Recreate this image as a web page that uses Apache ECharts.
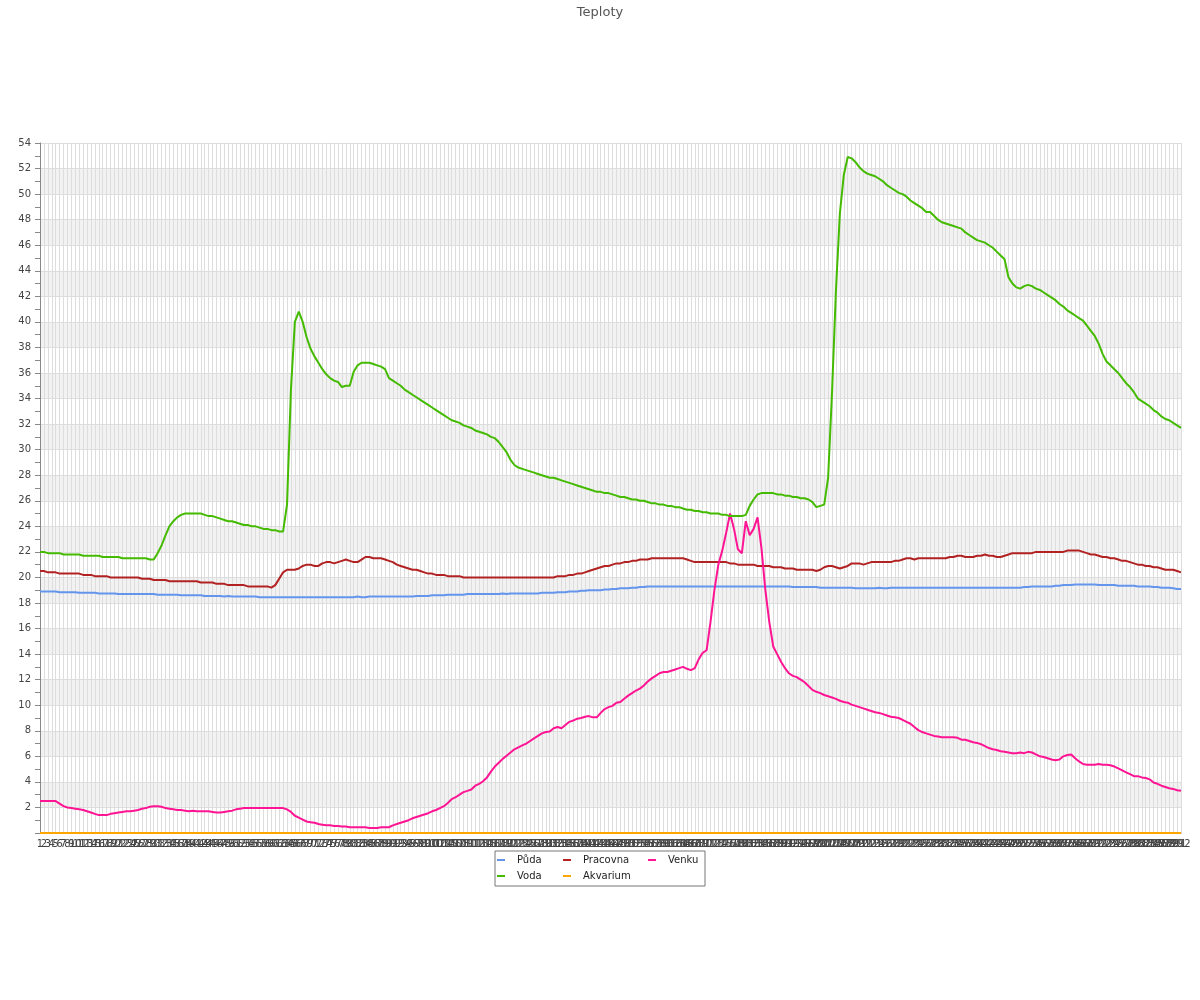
<!DOCTYPE html>
<html>
<head>
<meta charset="utf-8">
<script src="https://cdn.jsdelivr.net/npm/echarts@6/dist/echarts.min.js"></script>
<style>html,body{margin:0;padding:0;background:#fff}#c{width:1200px;height:1000px}</style>
</head>
<body>
<div id="c"></div>
<script>
const categories = Array.from({length: 292}, (_, i) => String(i + 1));

const puda = [
18.9,18.9,18.9,18.9,18.9,18.85,18.85,18.85,18.85,18.85,
18.8,18.8,18.8,18.8,18.8,18.75,18.75,18.75,18.75,18.75,
18.7,18.7,18.7,18.7,18.7,18.7,18.7,18.7,18.7,18.7,
18.65,18.65,18.65,18.65,18.65,18.65,18.6,18.6,18.6,18.6,
18.6,18.6,18.55,18.55,18.55,18.55,18.55,18.5,18.55,18.5,
18.5,18.5,18.5,18.5,18.5,18.5,18.45,18.45,18.45,18.45,
18.45,18.45,18.45,18.45,18.45,18.45,18.45,18.45,18.45,18.45,
18.45,18.45,18.45,18.45,18.45,18.45,18.45,18.45,18.45,18.45,
18.45,18.5,18.45,18.45,18.5,18.5,18.5,18.5,18.5,18.5,
18.5,18.5,18.5,18.5,18.5,18.5,18.55,18.55,18.55,18.55,
18.6,18.6,18.6,18.6,18.65,18.65,18.65,18.65,18.65,18.7,
18.7,18.7,18.7,18.7,18.7,18.7,18.7,18.7,18.75,18.7,
18.75,18.75,18.75,18.75,18.75,18.75,18.75,18.75,18.8,18.8,
18.8,18.8,18.85,18.85,18.85,18.9,18.9,18.9,18.95,18.95,
19.0,19.0,19.0,19.0,19.05,19.05,19.1,19.1,19.15,19.15,
19.15,19.2,19.2,19.25,19.25,19.3,19.3,19.3,19.3,19.3,
19.3,19.3,19.3,19.3,19.3,19.3,19.3,19.3,19.3,19.3,
19.3,19.3,19.3,19.3,19.3,19.3,19.3,19.3,19.3,19.3,
19.3,19.3,19.3,19.3,19.3,19.3,19.3,19.3,19.3,19.3,
19.3,19.3,19.25,19.25,19.25,19.25,19.25,19.25,19.25,19.2,
19.2,19.2,19.2,19.2,19.2,19.2,19.2,19.2,19.15,19.15,
19.15,19.15,19.15,19.15,19.2,19.15,19.15,19.2,19.2,19.2,
19.2,19.2,19.2,19.2,19.2,19.2,19.2,19.2,19.2,19.2,
19.2,19.2,19.2,19.2,19.2,19.2,19.2,19.2,19.2,19.2,
19.2,19.2,19.2,19.2,19.2,19.2,19.2,19.2,19.2,19.2,
19.2,19.25,19.25,19.3,19.3,19.3,19.3,19.3,19.3,19.35,
19.35,19.4,19.4,19.4,19.45,19.45,19.45,19.45,19.45,19.45,
19.4,19.4,19.4,19.4,19.4,19.35,19.35,19.35,19.35,19.35,
19.3,19.3,19.3,19.3,19.25,19.25,19.2,19.2,19.2,19.15,
19.1,19.1
];

const pracovna = [
20.5,20.5,20.4,20.4,20.4,20.3,20.3,20.3,20.3,20.3,
20.3,20.2,20.2,20.2,20.1,20.1,20.1,20.1,20.0,20.0,
20.0,20.0,20.0,20.0,20.0,20.0,19.9,19.9,19.9,19.8,
19.8,19.8,19.8,19.7,19.7,19.7,19.7,19.7,19.7,19.7,
19.7,19.6,19.6,19.6,19.6,19.5,19.5,19.5,19.4,19.4,
19.4,19.4,19.4,19.3,19.3,19.3,19.3,19.3,19.3,19.2,
19.4,19.9,20.4,20.6,20.6,20.6,20.7,20.9,21.0,21.0,
20.9,20.9,21.1,21.2,21.2,21.1,21.2,21.3,21.4,21.3,
21.2,21.2,21.4,21.6,21.6,21.5,21.5,21.5,21.4,21.3,
21.2,21.0,20.9,20.8,20.7,20.6,20.6,20.5,20.4,20.3,
20.3,20.2,20.2,20.2,20.1,20.1,20.1,20.1,20.0,20.0,
20.0,20.0,20.0,20.0,20.0,20.0,20.0,20.0,20.0,20.0,
20.0,20.0,20.0,20.0,20.0,20.0,20.0,20.0,20.0,20.0,
20.0,20.0,20.1,20.1,20.1,20.2,20.2,20.3,20.3,20.4,
20.5,20.6,20.7,20.8,20.9,20.9,21.0,21.1,21.1,21.2,
21.2,21.3,21.3,21.4,21.4,21.4,21.5,21.5,21.5,21.5,
21.5,21.5,21.5,21.5,21.5,21.4,21.3,21.2,21.2,21.2,
21.2,21.2,21.2,21.2,21.2,21.2,21.1,21.1,21.0,21.0,
21.0,21.0,21.0,20.9,20.9,20.9,20.9,20.8,20.8,20.8,
20.7,20.7,20.7,20.6,20.6,20.6,20.6,20.6,20.5,20.6,
20.8,20.9,20.9,20.8,20.7,20.8,20.9,21.1,21.1,21.1,
21.0,21.1,21.2,21.2,21.2,21.2,21.2,21.2,21.3,21.3,
21.4,21.5,21.5,21.4,21.5,21.5,21.5,21.5,21.5,21.5,
21.5,21.5,21.6,21.6,21.7,21.7,21.6,21.6,21.6,21.7,
21.7,21.8,21.7,21.7,21.6,21.6,21.7,21.8,21.9,21.9,
21.9,21.9,21.9,21.9,22.0,22.0,22.0,22.0,22.0,22.0,
22.0,22.0,22.1,22.1,22.1,22.1,22.0,21.9,21.8,21.8,
21.7,21.6,21.6,21.5,21.5,21.4,21.3,21.3,21.2,21.1,
21.0,21.0,20.9,20.9,20.8,20.8,20.7,20.6,20.6,20.6,
20.5,20.4
];

const venku = [
2.5,2.5,2.5,2.5,2.5,2.3,2.1,2.0,1.95,1.9,
1.85,1.8,1.7,1.6,1.5,1.4,1.4,1.4,1.5,1.55,
1.6,1.65,1.7,1.7,1.75,1.8,1.9,1.95,2.05,2.1,
2.1,2.05,1.95,1.9,1.85,1.8,1.8,1.75,1.7,1.75,
1.7,1.7,1.7,1.7,1.65,1.6,1.6,1.65,1.7,1.75,
1.85,1.9,1.95,1.95,1.95,1.95,1.95,1.95,1.95,1.95,
1.95,1.95,1.95,1.85,1.65,1.35,1.2,1.05,0.9,0.85,
0.8,0.7,0.65,0.6,0.6,0.55,0.55,0.5,0.5,0.45,
0.45,0.45,0.45,0.45,0.4,0.4,0.4,0.45,0.45,0.45,
0.6,0.7,0.8,0.9,1.0,1.15,1.25,1.35,1.45,1.55,
1.7,1.8,1.95,2.1,2.35,2.65,2.8,3.0,3.2,3.3,
3.4,3.7,3.85,4.05,4.35,4.8,5.2,5.5,5.8,6.05,
6.3,6.55,6.7,6.85,7.0,7.2,7.4,7.6,7.8,7.9,
7.95,8.2,8.3,8.2,8.45,8.7,8.8,8.95,9.0,9.1,
9.15,9.05,9.05,9.4,9.7,9.85,9.95,10.2,10.25,10.5,
10.75,10.95,11.15,11.3,11.55,11.85,12.1,12.3,12.5,12.6,
12.6,12.7,12.8,12.9,13.0,12.85,12.75,12.9,13.6,14.1,
14.3,16.5,19.0,21.0,22.1,23.5,25.0,23.8,22.2,21.9,
24.4,23.3,23.8,24.7,22.3,19.0,16.5,14.6,14.0,13.4,
12.9,12.5,12.3,12.2,12.0,11.8,11.5,11.2,11.05,10.95,
10.8,10.7,10.6,10.5,10.35,10.25,10.2,10.05,9.95,9.85,
9.75,9.65,9.55,9.45,9.4,9.3,9.2,9.1,9.05,9.0,
8.85,8.7,8.55,8.3,8.05,7.9,7.8,7.7,7.6,7.55,
7.5,7.5,7.5,7.5,7.45,7.3,7.3,7.2,7.1,7.05,
6.95,6.8,6.65,6.55,6.5,6.4,6.35,6.3,6.25,6.25,
6.3,6.25,6.35,6.3,6.15,6.0,5.95,5.85,5.75,5.7,
5.75,6.0,6.1,6.15,5.85,5.6,5.4,5.35,5.35,5.35,
5.4,5.35,5.35,5.3,5.2,5.05,4.9,4.75,4.6,4.45,
4.45,4.35,4.3,4.2,3.95,3.85,3.7,3.6,3.5,3.45,
3.35,3.3
];

const voda = [
22.0,22.0,21.9,21.9,21.9,21.9,21.8,21.8,21.8,21.8,
21.8,21.7,21.7,21.7,21.7,21.7,21.6,21.6,21.6,21.6,
21.6,21.5,21.5,21.5,21.5,21.5,21.5,21.5,21.4,21.4,
21.9,22.5,23.3,24.0,24.4,24.7,24.9,25.0,25.0,25.0,
25.0,25.0,24.9,24.8,24.8,24.7,24.6,24.5,24.4,24.4,
24.3,24.2,24.1,24.1,24.0,24.0,23.9,23.8,23.8,23.7,
23.7,23.6,23.6,25.7,34.7,40.0,40.8,40.0,38.8,37.9,
37.3,36.8,36.3,35.9,35.6,35.4,35.3,34.9,35.0,35.0,
36.1,36.6,36.8,36.8,36.8,36.7,36.6,36.5,36.3,35.6,
35.4,35.2,35.0,34.7,34.5,34.3,34.1,33.9,33.7,33.5,
33.3,33.1,32.9,32.7,32.5,32.3,32.2,32.1,31.9,31.8,
31.7,31.5,31.4,31.3,31.2,31.0,30.9,30.6,30.2,29.8,
29.2,28.8,28.6,28.5,28.4,28.3,28.2,28.1,28.0,27.9,
27.8,27.8,27.7,27.6,27.5,27.4,27.3,27.2,27.1,27.0,
26.9,26.8,26.7,26.7,26.6,26.6,26.5,26.4,26.3,26.3,
26.2,26.1,26.1,26.0,26.0,25.9,25.8,25.8,25.7,25.7,
25.6,25.6,25.5,25.5,25.4,25.3,25.3,25.2,25.2,25.1,
25.1,25.0,25.0,25.0,24.9,24.9,24.8,24.8,24.8,24.8,
24.9,25.6,26.1,26.5,26.6,26.6,26.6,26.6,26.5,26.5,
26.4,26.4,26.3,26.3,26.2,26.2,26.1,25.9,25.5,25.6,
25.7,27.8,34.5,42.5,48.5,51.5,52.9,52.8,52.5,52.1,
51.8,51.6,51.5,51.4,51.2,51.0,50.7,50.5,50.3,50.1,
50.0,49.8,49.5,49.3,49.1,48.9,48.6,48.6,48.3,48.0,
47.8,47.7,47.6,47.5,47.4,47.3,47.0,46.8,46.6,46.4,
46.3,46.2,46.0,45.8,45.5,45.2,44.9,43.5,43.0,42.7,
42.6,42.8,42.9,42.8,42.6,42.5,42.3,42.1,41.9,41.7,
41.4,41.2,40.9,40.7,40.5,40.3,40.1,39.7,39.3,38.9,
38.3,37.5,36.9,36.6,36.3,36.0,35.6,35.2,34.9,34.5,
34.0,33.8,33.6,33.4,33.1,32.9,32.6,32.4,32.3,32.1,
31.9,31.7
];

const akvarium = [
0,0,0,0,0,0,0,0,0,0,0,0,0,0,0,0,0,0,0,0,
0,0,0,0,0,0,0,0,0,0,0,0,0,0,0,0,0,0,0,0,
0,0,0,0,0,0,0,0,0,0,0,0,0,0,0,0,0,0,0,0,
0,0,0,0,0,0,0,0,0,0,0,0,0,0,0,0,0,0,0,0,
0,0,0,0,0,0,0,0,0,0,0,0,0,0,0,0,0,0,0,0,
0,0,0,0,0,0,0,0,0,0,0,0,0,0,0,0,0,0,0,0,
0,0,0,0,0,0,0,0,0,0,0,0,0,0,0,0,0,0,0,0,
0,0,0,0,0,0,0,0,0,0,0,0,0,0,0,0,0,0,0,0,
0,0,0,0,0,0,0,0,0,0,0,0,0,0,0,0,0,0,0,0,
0,0,0,0,0,0,0,0,0,0,0,0,0,0,0,0,0,0,0,0,
0,0,0,0,0,0,0,0,0,0,0,0,0,0,0,0,0,0,0,0,
0,0,0,0,0,0,0,0,0,0,0,0,0,0,0,0,0,0,0,0,
0,0,0,0,0,0,0,0,0,0,0,0,0,0,0,0,0,0,0,0,
0,0,0,0,0,0,0,0,0,0,0,0,0,0,0,0,0,0,0,0,
0,0,0,0,0,0,0,0,0,0,0,0
];

const seriesNames = ['Půda', 'Pracovna', 'Venku', 'Voda', 'Akvarium'];
const seriesColors = ['#6495ed', '#b22222', '#ff1493', '#44bb00', '#ffa500'];
const seriesData = [puda, pracovna, venku, voda, akvarium];
const legendTextWidths = [44, 63, 34, 44, 63];

const FONT = 'DejaVu Sans';
const chart = echarts.init(document.getElementById('c'), null, {renderer: 'canvas'});

chart.setOption({
  animation: false,
  backgroundColor: '#fff',
  title: {
    text: 'Teploty',
    left: 'center',
    top: 1,
    textStyle: {fontFamily: FONT, fontSize: 13, fontWeight: 'normal', color: '#555'}
  },
  legend: {
    left: 495,
    top: 851,
    orient: 'horizontal',
    width: 208,
    padding: [2, 3, 3, 2],
    itemGap: 2,
    itemWidth: 8,
    itemHeight: 2,
    icon: 'rect',
    borderColor: '#777',
    borderWidth: 1,
    backgroundColor: '#fff',
    textStyle: {fontFamily: FONT, fontSize: 10, color: '#222', lineHeight: 14, padding: [0, 0, 0, 7]},
    data: seriesNames.map((n, i) => ({name: n, textStyle: {width: legendTextWidths[i]}}))
  },
  grid: {left: 40, right: 19, top: 143, bottom: 167, containLabel: false},
  xAxis: {
    type: 'category',
    data: categories,
    boundaryGap: false,
    axisLine: {show: true, lineStyle: {color: '#888'}},
    axisTick: {show: false},
    axisLabel: {interval: 0, fontFamily: FONT, fontSize: 10, color: '#444', margin: 6},
    splitLine: {show: true, interval: 0, lineStyle: {color: '#ddd', width: 1}}
  },
  yAxis: {
    type: 'value',
    min: 0,
    max: 54,
    interval: 2,
    axisLine: {show: true, lineStyle: {color: '#888'}},
    axisTick: {show: true, length: 5, lineStyle: {color: '#888'}},
    minorTick: {show: true, splitNumber: 2, length: 5, lineStyle: {color: '#888'}},
    axisLabel: {fontFamily: FONT, fontSize: 10, color: '#444', margin: 9,
      formatter: v => (v === 0 ? '' : String(v))},
    splitLine: {show: true, lineStyle: {color: '#ddd', width: 1}},
    splitArea: {show: true, areaStyle: {color: ['#ffffff', '#f2f2f2']}}
  },
  series: seriesNames.map((n, i) => ({
    name: n,
    type: 'line',
    data: seriesData[i],
    showSymbol: false,
    symbol: 'none',
    color: seriesColors[i],
    lineStyle: {width: 2, color: seriesColors[i]},
    z: 3
  }))
});
</script>
</body>
</html>
